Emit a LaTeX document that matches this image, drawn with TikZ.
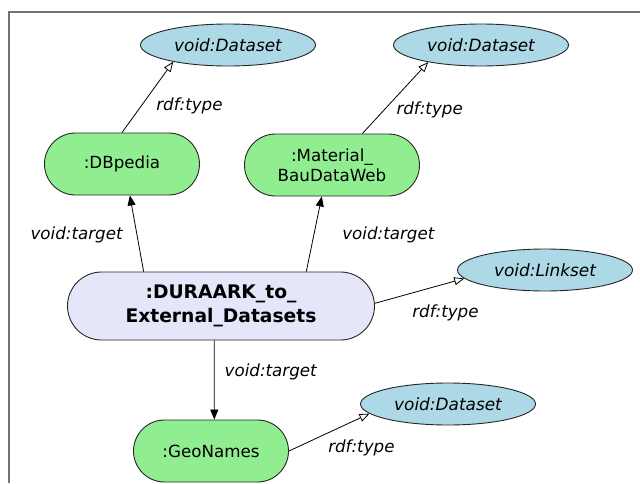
\documentclass[tikz,border=0pt]{standalone}
\usepackage{fontspec}
\setmainfont{DejaVu Sans}
\usepackage{tikz}
\usetikzlibrary{arrows.meta,shapes.geometric,shapes.misc}
\definecolor{klassblau}{RGB}{173,216,230}
\definecolor{ressgruen}{RGB}{144,238,144}
\definecolor{lavendel}{RGB}{230,230,250}

\begin{document}
\begin{tikzpicture}[x=1pt,y=-1pt,
  every node/.style={font=\fontsize{16.7}{20}\selectfont},
  klasse/.style={ellipse,draw=black!85,fill=klassblau,line width=0.9pt,inner sep=0pt,
    minimum width=175pt,minimum height=42pt,font=\fontsize{16.9}{20}\selectfont\itshape},
  ressource/.style={rounded rectangle,draw=black!85,fill=ressgruen,line width=0.9pt,
    inner sep=0pt,minimum width=155pt,minimum height=62pt,align=center},
  linkset/.style={rounded rectangle,draw=black!85,fill=lavendel,line width=0.9pt,
    inner sep=0pt,minimum width=307pt,minimum height=68pt,align=center,
    font=\fontsize{18.7}{24}\selectfont\bfseries},
  kante/.style={line width=0.8pt,-{Triangle[length=10pt,width=8pt]}},
  typkante/.style={line width=0.8pt,-{Triangle[open,length=10pt,width=8pt]}},
  lbl/.style={inner sep=1pt,font=\fontsize{16.7}{20}\selectfont\itshape},
  rahmen/.style={draw=black!55,line width=1.4pt}]
\useasboundingbox (0,0) rectangle (640,483);
\draw[rahmen] (9,483) -- (9,12) -- (640,12);

% Knoten
\node[klasse] (ds1) at (228,45) {void:Dataset};
\node[klasse] (ds2) at (481,45) {void:Dataset};
\node[ressource] (dbp) at (122,164) {:DBpedia};
\node[ressource,minimum width=175pt] (mat) at (332,165) {:Material\_\\BauDataWeb};
\node[linkset] (dur) at (221,306) {:DURAARK\_to\_\\External\_Datasets};
\node[klasse] (ls) at (545,270) {void:Linkset};
\node[ressource] (geo) at (211,451) {:GeoNames};
\node[klasse] (ds3) at (448,404) {void:Dataset};

% Kanten
\draw[typkante] (dbp.north) -- (ds1.197) node[lbl,pos=.37,right=14pt] {rdf:type};
\draw[typkante] (mat.46) -- (ds2.198) node[lbl,pos=.33,right=11pt] {rdf:type};
\draw[kante] (dur.156) -- (dbp.284) node[lbl,pos=.48,left=13pt] {void:target};
\draw[kante] (dur.22) -- (mat.252) node[lbl,pos=.49,right=27pt] {void:target};
\draw[typkante] (dur.1) -- (ls.186) node[lbl,pos=.79,below=20pt] {rdf:type};
\draw[kante] (dur.259) -- (geo.84) node[lbl,pos=.4,right=9pt] {void:target};
\draw[typkante] (geo.east) -- (ds3.187) node[lbl,pos=.9,below=21pt] {rdf:type};
\end{tikzpicture}
\end{document}
